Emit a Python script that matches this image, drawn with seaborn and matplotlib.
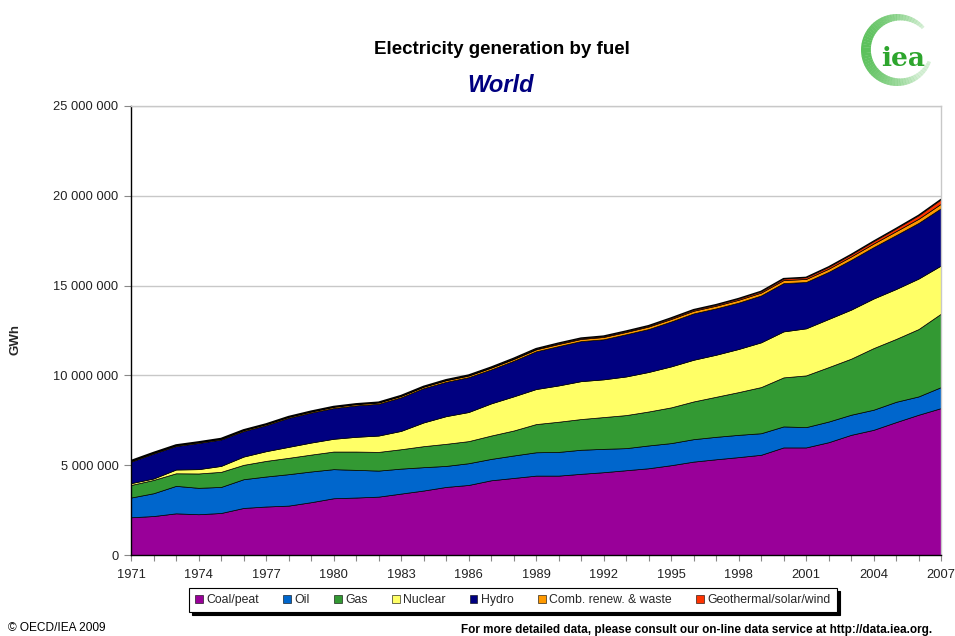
import numpy as np
import pandas as pd
import matplotlib
matplotlib.use("Agg")
import matplotlib.pyplot as plt
import seaborn as sns
from matplotlib.patches import Wedge
from matplotlib.ticker import FuncFormatter, MultipleLocator

years = list(range(1971, 2008))

coal = [2100000, 2170000, 2320000, 2270000, 2340000, 2620000, 2700000, 2750000, 2940000, 3160000,
        3200000, 3250000, 3420000, 3590000, 3790000, 3900000, 4160000, 4290000, 4420000, 4420000,
        4520000, 4610000, 4720000, 4830000, 5000000, 5200000, 5330000, 5450000, 5580000, 5990000,
        5990000, 6280000, 6690000, 6970000, 7400000, 7810000, 8180000]
oil = [1100000, 1270000, 1530000, 1470000, 1450000, 1600000, 1670000, 1750000, 1710000, 1620000,
       1540000, 1450000, 1390000, 1300000, 1170000, 1210000, 1190000, 1250000, 1300000, 1320000,
       1340000, 1300000, 1230000, 1270000, 1230000, 1250000, 1250000, 1240000, 1200000, 1170000,
       1130000, 1150000, 1120000, 1120000, 1130000, 1020000, 1170000]
gas = [700000, 740000, 700000, 800000, 840000, 800000, 870000, 910000, 940000, 980000,
       1020000, 1040000, 1080000, 1170000, 1230000, 1230000, 1300000, 1390000, 1570000, 1680000,
       1710000, 1770000, 1840000, 1890000, 1990000, 2100000, 2230000, 2380000, 2570000, 2730000,
       2880000, 3030000, 3120000, 3430000, 3500000, 3750000, 4090000]
nuclear = [100000, 80000, 210000, 240000, 330000, 460000, 540000, 610000, 670000, 710000,
           820000, 910000, 1020000, 1320000, 1540000, 1620000, 1790000, 1900000, 1950000, 2020000,
           2110000, 2100000, 2150000, 2200000, 2280000, 2320000, 2340000, 2400000, 2490000, 2560000,
           2620000, 2680000, 2730000, 2760000, 2780000, 2810000, 2680000]
hydro = [1200000, 1390000, 1310000, 1460000, 1470000, 1420000, 1450000, 1620000, 1670000, 1710000,
         1750000, 1770000, 1870000, 1910000, 1910000, 1940000, 1890000, 1980000, 2100000, 2190000,
         2230000, 2230000, 2350000, 2390000, 2500000, 2580000, 2580000, 2580000, 2610000, 2690000,
         2580000, 2620000, 2770000, 2860000, 3000000, 3100000, 3190000]
comb = [50000, 50000, 50000, 50000, 50000, 60000, 60000, 60000, 60000, 70000,
        70000, 70000, 80000, 80000, 90000, 90000, 100000, 100000, 110000, 120000,
        120000, 130000, 130000, 140000, 140000, 150000, 150000, 160000, 160000, 170000,
        170000, 180000, 190000, 200000, 220000, 230000, 250000]
geo = [10000, 10000, 10000, 10000, 10000, 10000, 10000, 10000, 20000, 20000,
       20000, 20000, 20000, 20000, 30000, 30000, 30000, 40000, 40000, 50000,
       50000, 50000, 50000, 50000, 60000, 60000, 60000, 70000, 70000, 80000,
       90000, 100000, 110000, 130000, 150000, 190000, 240000]

labels = ["Coal/peat", "Oil", "Gas", "Nuclear", "Hydro", "Comb. renew. & waste", "Geothermal/solar/wind"]
colors = ["#990099", "#0066CC", "#339933", "#FFFF66", "#000080", "#FF9900", "#FF3300"]
xtick_years = list(range(1971, 2008, 3))
yticks = [0, 5000000, 10000000, 15000000, 20000000, 25000000]

df = pd.DataFrame({"year": years, "Coal/peat": coal, "Oil": oil, "Gas": gas, "Nuclear": nuclear,
                   "Hydro": hydro, "Comb. renew. & waste": comb, "Geothermal/solar/wind": geo})

sns.set_theme(style="white")
plt.rcParams["font.family"] = ["Liberation Sans", "DejaVu Sans"]

fig = plt.figure(figsize=(9.55, 6.36), dpi=100)
ax = fig.add_axes([131/955, 1-555/636, (941-131)/955, (555-106)/636])

ax.stackplot(df["year"], *[df[l] for l in labels], colors=colors, labels=labels,
             edgecolor="black", linewidth=0.5)
sns.lineplot(x=df["year"], y=df[labels].sum(axis=1), ax=ax, color="black", linewidth=1.0, legend=False)

ax.set_xlim(1971, 2007)
ax.set_ylim(0, 25000000)
ax.set_yticks(yticks)
ax.yaxis.set_major_formatter(FuncFormatter(lambda v, p: f"{int(v):,}".replace(",", " ")))
ax.set_xticks(xtick_years)
ax.xaxis.set_minor_locator(MultipleLocator(1))
ax.grid(axis="y", color="#C8C8C8", linewidth=1.0)
ax.set_axisbelow(True)
for s in ["top", "right"]:
    ax.spines[s].set_color("#C8C8C8")
    ax.spines[s].set_linewidth(1.0)
for s in ["left", "bottom"]:
    ax.spines[s].set_color("black")
    ax.spines[s].set_linewidth(1.0)
ax.tick_params(axis="y", which="major", direction="out", length=5, width=0.8, color="#888888",
               labelsize=9.3, pad=4, left=True)
ax.tick_params(axis="x", which="both", direction="out", length=4, width=0.8, color="#888888",
               labelsize=9.3, pad=6, bottom=True)
ax.tick_params(axis="x", which="minor", length=4)
ax.set_xlabel("")
ax.set_ylabel("GWh", fontsize=9.5, fontweight="bold")
ax.yaxis.set_label_coords(-0.1346, 0.48)
for t in ax.get_xticklabels() + ax.get_yticklabels():
    t.set_color("#222222")

fig.text(0.5255, 0.922, "Electricity generation by fuel", ha="center", va="center",
         fontsize=13.5, fontweight="bold", color="black")
fig.text(0.524, 0.866, "World", ha="center", va="center", fontsize=17, fontweight="bold",
         fontstyle="italic", color="#000080")

# legend with shadow box
handles, lbls = ax.get_legend_handles_labels()
leg = fig.legend(handles, lbls, loc="center", bbox_to_anchor=(513/955, 1-600/636), ncol=7,
                 fontsize=8.8, frameon=True, fancybox=False, shadow={"color": "black", "alpha": 1.0},
                 handlelength=0.6, handleheight=0.6, handletextpad=0.3, columnspacing=2.0,
                 borderpad=0.5, edgecolor="black")
leg.get_frame().set_linewidth(0.8)
for h in leg.legend_handles:
    h.set_linewidth(0.4)

fig.text(8/955, 1-628/636, "© OECD/IEA 2009", ha="left", va="center", fontsize=8.6, color="black")
fig.text(932/955, 1-630/636, "For more detailed data, please consult our on-line data service at http://data.iea.org.",
         ha="right", va="center", fontsize=8.5, fontweight="bold", color="black")

# IEA logo
lax = fig.add_axes([852/955, 1-95/636, 90/955, 90/636])
lax.set_xlim(-1, 1)
lax.set_ylim(-1, 1)
lax.set_aspect("equal")
lax.axis("off")
n = 60
for i in range(n):
    a0 = 40 + i * 300 / n
    frac = i / (n - 1)
    width = 0.08 + 0.14 * np.sin(np.pi * frac)
    alpha = 0.25 + 0.75 * np.sin(np.pi * min(1, frac * 1.1))
    lax.add_patch(Wedge((0, 0), 0.8, a0, a0 + 300 / n + 0.5, width=width,
                        facecolor="#5CC15C", edgecolor="none", alpha=max(0.15, alpha)))
lax.text(0.14, -0.2, "iea", ha="center", va="center", fontsize=19, fontweight="bold",
         color="#2DA52D", family=["DejaVu Serif"])

fig.savefig("out.png", dpi=100)
